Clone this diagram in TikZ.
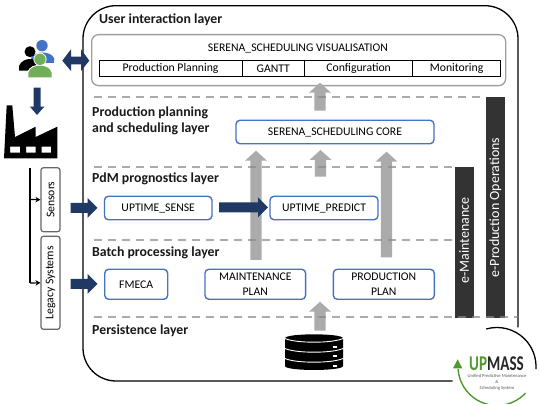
\documentclass[tikz,border=0pt]{standalone}
\usepackage{fontspec}
\usepackage{graphicx}
\setmainfont{Carlito}
\usetikzlibrary{arrows.meta,calc}
\definecolor{navy}{HTML}{1F3864}
\definecolor{boxblue}{HTML}{4472C4}
\definecolor{greyarrow}{HTML}{ABABAB}
\definecolor{dashgrey}{HTML}{8A8686}
\definecolor{pillar}{HTML}{333333}
\definecolor{upgreen}{HTML}{4E9A2E}
\tikzset{
 x=1pt,y=-1pt,
 layer/.style={font=\fontsize{13.8}{16.3}\selectfont\bfseries,anchor=west,align=left,inner sep=0pt,text=black!90},
 bluebox/.style={draw=boxblue,line width=1.4pt,rounded corners=4pt,fill=white,font=\fontsize{11.7}{14.3}\selectfont,align=center,inner sep=0pt},
 cell/.style={draw=black,line width=0.9pt,font=\fontsize{11.7}{13}\selectfont,inner sep=0pt,anchor=north west,minimum height=16pt},
 sidebox/.style={draw=black!60,line width=1.2pt,rounded corners=2.5pt,fill=white,font=\fontsize{11.7}{13}\selectfont,inner sep=0pt,rotate=90,minimum height=19pt},
 pillarbox/.style={fill=pillar,inner sep=0pt,rotate=90,minimum height=18.7pt},
 pillartext/.style={rotate=90,text=white,font=\fontsize{14}{16}\selectfont,inner sep=0pt},
 dashline/.style={draw=dashgrey,opacity=.7,line width=1.7pt,dash pattern=on 8pt off 6pt},
 grey arrow/.style={draw=none,fill=greyarrow},
 navy arrow/.style={draw=none,fill=navy},
}
% block arrow pointing up: x, tail y, head-tip y, half shaft, half head, head length
\newcommand{\uparrowshape}[7][grey arrow]{%
 \fill[#1] (#2-#5,#3) -- (#2-#5,#4+#7) -- (#2-#6,#4+#7) -- (#2,#4) -- (#2+#6,#4+#7) -- (#2+#5,#4+#7) -- (#2+#5,#3) -- cycle;}
\newcommand{\rightarrowshape}[7][navy arrow]{%
 \fill[#1] (#3,#2-#5) -- (#4-#7,#2-#5) -- (#4-#7,#2-#6) -- (#4,#2) -- (#4-#7,#2+#6) -- (#4-#7,#2+#5) -- (#3,#2+#5) -- cycle;}
\begin{document}
\begin{tikzpicture}
\useasboundingbox (0,0) rectangle (539,406);
% main frame (open towards the logo)
\draw[black,line width=1.3pt,rounded corners=33pt] (452.7,381) -- (83,381) -- (83,5.7) -- (518,5.7) -- (518,327.5);
% layer labels
\node[layer] (l1) at (99,20) {User interaction layer};
\node[layer] (l2) at (92,121) {Production planning\\and scheduling layer};
\node[layer] (l3) at (92,179.3) {PdM prognostics layer};
\node[layer] (l4) at (92,252.7) {Batch processing layer};
\node[layer] (l5) at (92,331) {Persistence layer};
% visualisation box
\node[draw=black!38,line width=1.3pt,rounded corners=7pt,minimum width=414pt,minimum height=51pt,anchor=north west,inner sep=0pt] (vis) at (91,34) {};
\node[font=\fontsize{11.7}{13}\selectfont,inner sep=0pt] (vist) at (298,48) {SERENA\_SCHEDULING VISUALISATION};
\node[cell,minimum width=143.2pt] (c1) at (98.5,60) {Production Planning};
\node[cell,minimum width=62.3pt] (c2) at (241.7,60) {GANTT};
\node[cell,minimum width=108.3pt] (c3) at (304,60) {Configuration};
\node[cell,minimum width=87.7pt] (c4) at (412.3,60) {Monitoring};
% grey arrows
\uparrowshape{320}{110.7}{82.7}{5.7}{11}{10}
\uparrowshape{320.5}{176.7}{150}{5.7}{11}{10}
\uparrowshape{386.5}{257.3}{151.7}{5.7}{11}{10}
\uparrowshape{256}{260}{150.7}{5.7}{11}{10}
\uparrowshape{320}{330.7}{301.7}{5.7}{11}{10}
% pillars
\node[pillarbox,minimum width=151pt] (eM) at (464.2,242.2) {};
\node[pillartext] (eMt) at (464.2,240.5) {e-Maintenance};
\node[pillarbox,minimum width=220.5pt] (eP) at (495.5,207.5) {};
\node[pillartext] (ePt) at (495.5,207.5) {e-Production Operations};
% dashed separators
\coordinate (d1a) at (94,97.3); \coordinate (d1b) at (486,97.3);
\coordinate (d2a) at (94,166.7); \coordinate (d2b) at (454,166.7);
\coordinate (d3a) at (94,240); \coordinate (d3b) at (454,240);
\coordinate (d4a) at (94,317.3); \coordinate (d4b) at (518,317.3);
\draw[dashline] (d1a) -- (d1b);
\draw[dashline] (d2a) -- (d2b);
\draw[dashline] (d3a) -- (d3b);
\draw[dashline] (d4a) -- (d4b);
% boxes
\node[bluebox,minimum width=198pt,minimum height=23.5pt] (core) at (335,132) {SERENA\_SCHEDULING CORE};
\node[bluebox,minimum width=107.5pt,minimum height=23.5pt] (sense) at (158.2,208) {UPTIME\_SENSE};
\node[bluebox,minimum width=108pt,minimum height=23.5pt] (predict) at (324,208) {UPTIME\_PREDICT};
\node[bluebox,minimum width=63pt,minimum height=30pt] (fmeca) at (136.2,284.3) {FMECA};
\node[bluebox,minimum width=100.7pt,minimum height=30pt] (mplan) at (255.3,284.3) {MAINTENANCE\\PLAN};
\node[bluebox,minimum width=101pt,minimum height=30pt] (pplan) at (383.8,284.3) {PRODUCTION\\PLAN};
% navy arrows
\rightarrowshape{208}{70.5}{97.5}{5}{10}{10}
\rightarrowshape{207.5}{219}{268}{5}{10}{10}
\rightarrowshape{284}{70.5}{97.5}{5}{10}{10}
% sidebar
\node[sidebox,minimum width=64pt] (sens) at (50.5,199.7) {Sensors};
\node[sidebox,minimum width=93pt] (leg) at (50.5,282.8) {Legacy Systems};
\coordinate (busT) at (30,168);
\coordinate (busS) at (30,199.5);
\coordinate (busL) at (30,283);
\draw[black,line width=1.2pt] (busT) -- (busL);
\draw[black,line width=1.2pt,-{Stealth[length=5pt,width=5.5pt]}] (busS) -- (sens.north);
\draw[black,line width=1.2pt,-{Stealth[length=5pt,width=5.5pt]}] (busL) -- (leg.north);
% double arrow users <-> frame
\fill[navy] (62.3,60.7) -- (71,49.3) -- (71,56.7) -- (81,56.7) -- (81,49.3) -- (89.3,60.7) -- (81,71) -- (81,64.5) -- (71,64.5) -- (71,71) -- cycle;
% users
\fill[boxblue] (42,45.7) circle (5.7);
\fill[boxblue] (31,63) -- (31,58) .. controls (33,54) and (38,52.5) .. (42.5,52.5) .. controls (47,52.5) and (52,54) .. (54,58) -- (54,63) -- cycle;
\fill[black] (30,51.7) circle (5.5);
\fill[black] (19,70.7) -- (19,66) .. controls (21,61) and (26,59) .. (30,59) .. controls (34,59) and (38,60) .. (41,63) -- (41,70.7) -- cycle;
\fill[white] (40,59.3) circle (6.6);
\fill[white] (27.3,78) -- (27.3,72.5) .. controls (29,66.5) and (35,64.7) .. (40,64.7) .. controls (45,64.7) and (51,66.5) .. (52.7,72.5) -- (52.7,78) -- cycle;
\fill[upgreen!80!white] (40,59.3) circle (5.7);
\fill[upgreen!80!white] (28.3,77.3) -- (28.3,73) .. controls (30,67.5) and (35,65.7) .. (40,65.7) .. controls (45,65.7) and (50,67.5) .. (51.7,73) -- (51.7,77.3) -- cycle;
% arrow users to factory
\fill[navy] (33.5,87.7) -- (40.7,87.7) -- (40.7,106.7) -- (44.3,106.7) -- (37,115) -- (30,106.7) -- (33.5,106.7) -- cycle;
% factory
\fill[black,even odd rule] (4,158.3) -- (6.7,105.3) -- (12.3,105.3) -- (15,137) -- (35.7,126.7) -- (35.7,137) -- (57.3,126.7) -- (57.3,158.3) -- cycle
 (10,146.7) rectangle (20,152.7) (26,146.7) rectangle (35.7,152.7) (41.7,146.7) rectangle (51,152.7);
% database
\fill[black] (285,338.3) .. controls (285,333) and (343,333) .. (343,338.3) -- (343,366) .. controls (343,371.3) and (285,371.3) .. (285,366) -- cycle;
\foreach \yy in {338.3,348.3,358.3}{
 \draw[white,line width=0.9pt] (284.5,\yy) .. controls (295,{\yy+5.2}) and (333,{\yy+5.2}) .. (343.5,\yy);
}
\foreach \yy in {346.7,356.2,365.7}{\fill[white] (333.3,\yy-1) rectangle (337.3,\yy+1);}
% logo
\begin{scope}
\clip (440,320) rectangle (539,403.3);
\draw[upgreen,line width=1.4pt] (458.1,369.2) arc[start angle=184,end angle=317,radius=39pt];
\end{scope}
\fill[upgreen] (453,368.3) -- (457.7,359.3) -- (462.3,368.3) -- cycle;
\draw[black,line width=1.3pt] (486.25,329) arc[start angle=106,end angle=-4,radius=39pt];
\node[inner sep=0pt,font=\fontsize{21}{21}\selectfont\bfseries,anchor=center] (logo) at (496.5,363.5) {\scalebox{0.72}[1]{\textcolor{upgreen}{UP}\textcolor{black!85}{MASS}}};
\node[inner sep=0pt,font=\fontsize{4.6}{5.8}\selectfont,align=center,text=black!65] (logot) at (497,382.5) {Unified Predictive Maintenance\\\&\\Scheduling System};
\end{tikzpicture}
\end{document}
